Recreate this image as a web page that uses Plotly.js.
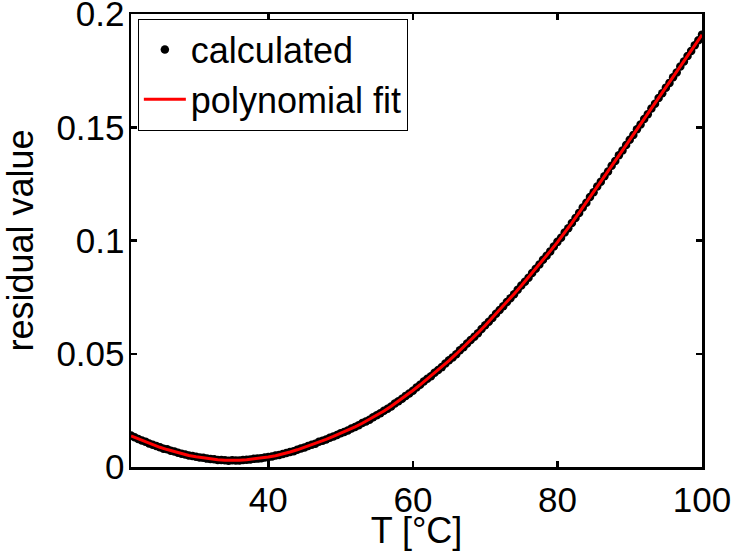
<!DOCTYPE html>
<html>
<head>
<meta charset="utf-8">
<script src="https://cdn.plot.ly/plotly-3.0.1.min.js"></script>
<style>
  html, body { margin: 0; padding: 0; background: #fff; }
  #chart { width: 734px; height: 551px; }
</style>
</head>
<body>
<div id="chart"></div>
<script>
// Temperature grid of the calculated residuals: 21 °C to 100 °C every 0.5 °C
const calcStart = 21, calcStep = 0.5;
const calcResidual = [
  0.0139, 0.0131, 0.0124, 0.0117, 0.0112, 0.0104, 0.0098, 0.0093, 0.0087, 0.0081,
  0.0078, 0.0072, 0.0068, 0.0063, 0.0059, 0.0055, 0.0051, 0.0049, 0.0045, 0.0042,
  0.0041, 0.0037, 0.0035, 0.0034, 0.0031, 0.0031, 0.0030, 0.0028, 0.0030, 0.0029,
  0.0029, 0.0031, 0.0032, 0.0033, 0.0036, 0.0037, 0.0039, 0.0042, 0.0044, 0.0046,
  0.0051, 0.0053, 0.0057, 0.0062, 0.0066, 0.0070, 0.0076, 0.0082, 0.0086, 0.0093,
  0.0098, 0.0103, 0.0111, 0.0116, 0.0121, 0.0129, 0.0135, 0.0141, 0.0149, 0.0155,
  0.0161, 0.0170, 0.0177, 0.0184, 0.0194, 0.0201, 0.0209, 0.0220, 0.0228, 0.0237,
  0.0248, 0.0257, 0.0267, 0.0280, 0.0290, 0.0301, 0.0314, 0.0325, 0.0337, 0.0351,
  0.0363, 0.0377, 0.0390, 0.0401, 0.0416, 0.0428, 0.0441, 0.0457, 0.0471, 0.0484,
  0.0498, 0.0515, 0.0529, 0.0545, 0.0561, 0.0575, 0.0591, 0.0609, 0.0626, 0.0641,
  0.0658, 0.0677, 0.0693, 0.0710, 0.0729, 0.0745, 0.0763, 0.0783, 0.0801, 0.0818,
  0.0836, 0.0857, 0.0875, 0.0894, 0.0915, 0.0933, 0.0952, 0.0974, 0.0994, 0.1012,
  0.1035, 0.1054, 0.1077, 0.1099, 0.1122, 0.1146, 0.1167, 0.1192, 0.1213, 0.1238,
  0.1259, 0.1284, 0.1305, 0.1330, 0.1351, 0.1376, 0.1397, 0.1422, 0.1445, 0.1466,
  0.1491, 0.1512, 0.1537, 0.1558, 0.1583, 0.1604, 0.1629, 0.1650, 0.1675, 0.1696,
  0.1721, 0.1742, 0.1768, 0.1790, 0.1815, 0.1837, 0.1862, 0.1884, 0.1909
];

// Polynomial fit evaluated at whole degrees, 21 °C to 100 °C
const fitStart = 21, fitStep = 1;
const fitResidual = [
  0.0137, 0.0124, 0.0111, 0.0098, 0.0087, 0.0077, 0.0068, 0.0059, 0.0051, 0.0045,
  0.0040, 0.0035, 0.0032, 0.0030, 0.0029, 0.0030, 0.0032, 0.0035, 0.0039, 0.0044,
  0.0050, 0.0057, 0.0066, 0.0076, 0.0087, 0.0098, 0.0110, 0.0122, 0.0135, 0.0148,
  0.0162, 0.0177, 0.0193, 0.0210, 0.0228, 0.0247, 0.0268, 0.0290, 0.0313, 0.0338,
  0.0363, 0.0389, 0.0415, 0.0442, 0.0470, 0.0499, 0.0529, 0.0560, 0.0592, 0.0625,
  0.0659, 0.0693, 0.0728, 0.0764, 0.0800, 0.0837, 0.0875, 0.0914, 0.0953, 0.0993,
  0.1034, 0.1078, 0.1123, 0.1168, 0.1214, 0.1260, 0.1306, 0.1352, 0.1398, 0.1444,
  0.1490, 0.1536, 0.1582, 0.1628, 0.1674, 0.1720, 0.1767, 0.1814, 0.1861, 0.1908
];

const seriesNames = ['calculated', 'polynomial fit'];
const xTickVals = [40, 60, 80, 100];
const yTickVals = [0, 0.05, 0.1, 0.15, 0.2];
const yTickText = ['0', '0.05', '0.1', '0.15', '0.2'];

const temps = (start, step, n) => Array.from({length: n}, (_, i) => start + i * step);

const FONT = 'Liberation Sans, Arial, Helvetica, sans-serif';

const traces = [
  {
    type: 'scatter', mode: 'markers', name: seriesNames[0],
    x: temps(calcStart, calcStep, calcResidual.length), y: calcResidual,
    marker: {color: '#000', size: 8.5, symbol: 'circle'}
  },
  {
    type: 'scatter', mode: 'lines', name: seriesNames[1],
    x: temps(fitStart, fitStep, fitResidual.length), y: fitResidual,
    line: {color: '#ff0000', width: 3}
  }
];

const axisCommon = {
  showgrid: false, zeroline: false,
  showline: true, linecolor: '#000', linewidth: 2.5, mirror: 'ticks',
  ticks: 'inside', ticklen: 6, tickwidth: 2.5, tickcolor: '#000',
  ticklabeloverflow: 'allow',
  tickfont: {family: FONT, size: 35, color: '#000'}
};

const layout = {
  width: 734, height: 551,
  margin: {l: 131, r: 32, t: 14, b: 84},
  paper_bgcolor: '#fff', plot_bgcolor: '#fff',
  font: {family: FONT, size: 36, color: '#000'},
  showlegend: true,
  legend: {
    x: 0.012, y: 0.99, xanchor: 'left', yanchor: 'top',
    bgcolor: '#fff', bordercolor: '#000', borderwidth: 1,
    font: {family: FONT, size: 36, color: '#000'},
    itemwidth: 42,
    tracegroupgap: 0
  },
  xaxis: Object.assign({}, axisCommon, {
    range: [21, 100], tickmode: 'array', tickvals: xTickVals,
    title: {text: 'T [°C]', font: {family: FONT, size: 36, color: '#000'}, standoff: 0}
  }),
  yaxis: Object.assign({}, axisCommon, {
    range: [0, 0.20001], tickmode: 'array', tickvals: yTickVals, ticktext: yTickText,
    ticklabelstandoff: -3,
    title: {text: 'residual value', font: {family: FONT, size: 36, color: '#000'}, standoff: 14}
  })
};

Plotly.newPlot('chart', traces, layout, {displayModeBar: false, staticPlot: true});
</script>
</body>
</html>
